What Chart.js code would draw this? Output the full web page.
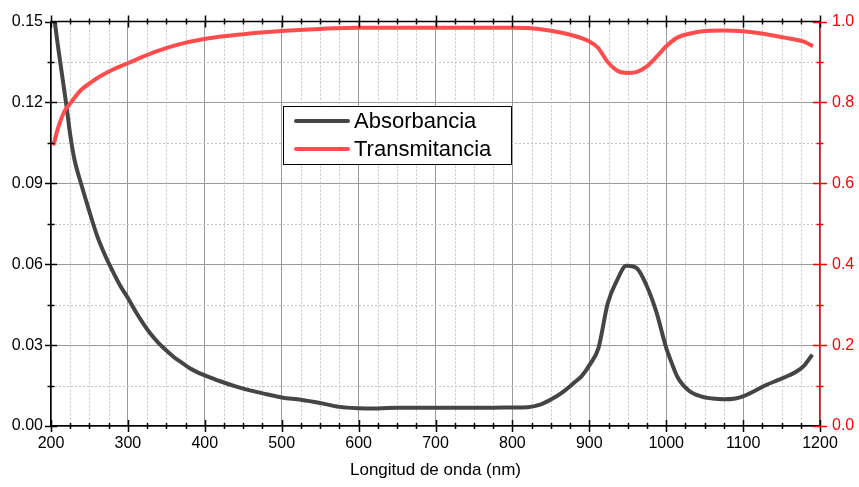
<!DOCTYPE html>
<html>
<head>
<meta charset="utf-8">
<script src="https://cdn.jsdelivr.net/npm/chart.js@4.4.1/dist/chart.umd.min.js"></script>
<style>
  html, body { margin: 0; padding: 0; background: #fff; }
  #wrap { width: 859px; height: 487px; }
</style>
</head>
<body>
<div id="wrap"><canvas id="c" width="859" height="487"></canvas></div>
<script>
// Absorbance spectrum (left axis)
const absWavelength = [200, 205, 210, 215, 220, 225, 230, 240, 250, 260, 270, 280, 290, 300, 310, 320, 330, 340, 350, 360, 370, 380, 390, 400, 420, 440, 460, 480, 500, 525, 550, 575, 600, 625, 650, 675, 700, 725, 750, 775, 800, 820, 835, 850, 865, 880, 890, 900, 912, 924, 936, 948, 961, 974, 987, 1000, 1005, 1015, 1030, 1045, 1060, 1075, 1090, 1100, 1115, 1130, 1145, 1160, 1170, 1180, 1190];
const absorbancia = [0.165, 0.150, 0.139, 0.129, 0.119, 0.108, 0.0995, 0.089, 0.0795, 0.0705, 0.0635, 0.0575, 0.052, 0.0475, 0.0425, 0.038, 0.034, 0.0307, 0.028, 0.0255, 0.0235, 0.0215, 0.0200, 0.0188, 0.0166, 0.0147, 0.0131, 0.0118, 0.0106, 0.0097, 0.0085, 0.0071, 0.0066, 0.0065, 0.0068, 0.0068, 0.0068, 0.0068, 0.0068, 0.0068, 0.0069, 0.0070, 0.0078, 0.0098, 0.0125, 0.016, 0.0185, 0.0225, 0.029, 0.0455, 0.054, 0.0594, 0.0587, 0.0524, 0.0425, 0.029, 0.025, 0.018, 0.0130, 0.0110, 0.0102, 0.0099, 0.0102, 0.0110, 0.0130, 0.0152, 0.0170, 0.0188, 0.0203, 0.0226, 0.0265];

// Transmittance spectrum (right axis)
const transWavelength = [203, 210, 218, 226, 238, 250, 264, 280, 300, 318, 338, 365, 399, 450, 500, 550, 600, 650, 700, 750, 800, 820, 848, 874, 900, 911, 924, 937, 950, 961, 974, 987, 1000, 1015, 1030, 1047, 1073, 1100, 1126, 1152, 1178, 1191];
const transmitancia = [0.694, 0.742, 0.78, 0.80, 0.829, 0.847, 0.865, 0.881, 0.897, 0.912, 0.927, 0.943, 0.957, 0.969, 0.977, 0.982, 0.985, 0.985, 0.985, 0.985, 0.985, 0.984, 0.978, 0.968, 0.951, 0.936, 0.90, 0.878, 0.873, 0.875, 0.888, 0.912, 0.939, 0.961, 0.970, 0.976, 0.978, 0.976, 0.970, 0.961, 0.951, 0.939];

// Axis ranges and tick steps
const xRange = [200, 1200];
const xMajor = 100, xMinor = 25;
const yRange = [0, 0.15];
const yMajor = 0.03, yMinor = 0.015;
const y2Range = [0, 1.0];
const y2Major = 0.2, y2Minor = 0.1;

const labels = { abs: 'Absorbancia', trans: 'Transmitancia', xTitle: 'Longitud de onda (nm)' };

const BLACK_LINE = '#454545';
const RED_LINE = '#ff4d4d';
const RED_AXIS = '#ff0000';
const FONT = '"Liberation Sans", Arial, sans-serif';

function toPoints(xs, ys) { return xs.map((x, i) => ({ x: x, y: ys[i] })); }

function steps(min, max, step) {
  const out = [];
  const n = Math.round((max - min) / step);
  for (let i = 0; i <= n; i++) out.push(min + i * step);
  return out;
}

// dotted minor grid lines drawn under the data
const minorGrid = {
  id: 'minorGrid',
  beforeDatasetsDraw(chart) {
    const { ctx, chartArea: a, scales } = chart;
    ctx.save();
    ctx.strokeStyle = '#c4c4c4';
    ctx.lineWidth = 1;
    ctx.setLineDash([2, 2]);
    steps(xRange[0], xRange[1], xMinor).forEach(v => {
      if (Math.abs(v % xMajor) < 1e-6) return;
      const px = Math.round(scales.x.getPixelForValue(v)) + 0.5;
      ctx.beginPath(); ctx.moveTo(px, a.top); ctx.lineTo(px, a.bottom); ctx.stroke();
    });
    steps(yRange[0], yRange[1], yMinor).forEach((v, i) => {
      if (i % 2 === 0) return;
      const py = Math.round(scales.y.getPixelForValue(v)) + 0.5;
      ctx.beginPath(); ctx.moveTo(a.left, py); ctx.lineTo(a.right, py); ctx.stroke();
    });
    ctx.restore();
  }
};

// axis frame and tick marks (crossing the axis lines)
const axisTicks = {
  id: 'axisTicks',
  afterDraw(chart) {
    const { ctx, chartArea: a, scales } = chart;
    ctx.save();
    ctx.lineWidth = 1.5;
    ctx.setLineDash([]);
    // top frame line
    ctx.strokeStyle = '#000';
    ctx.beginPath(); ctx.moveTo(a.left, a.top); ctx.lineTo(a.right, a.top); ctx.stroke();
    // x ticks, bottom and top
    steps(xRange[0], xRange[1], xMinor).forEach(v => {
      const major = Math.abs(v % xMajor) < 1e-6;
      const px = Math.round(scales.x.getPixelForValue(v)) + 0.5;
      const len = major ? 6 : 3;
      ctx.beginPath();
      ctx.moveTo(px, a.bottom - len); ctx.lineTo(px, a.bottom + len);
      ctx.moveTo(px, a.top - len); ctx.lineTo(px, a.top + len);
      ctx.stroke();
    });
    // left y ticks
    steps(yRange[0], yRange[1], yMinor).forEach((v, i) => {
      const len = i % 2 === 0 ? 6 : 3.5;
      const py = Math.round(scales.y.getPixelForValue(v)) + 0.5;
      ctx.beginPath(); ctx.moveTo(a.left - len, py); ctx.lineTo(a.left + len, py); ctx.stroke();
    });
    // right y ticks, red
    ctx.strokeStyle = RED_AXIS;
    steps(y2Range[0], y2Range[1], y2Minor).forEach((v, i) => {
      const len = i % 2 === 0 ? 7 : 3.5;
      const py = Math.round(scales.y2.getPixelForValue(v)) + 0.5;
      ctx.beginPath(); ctx.moveTo(a.right - len, py); ctx.lineTo(a.right + len, py); ctx.stroke();
    });
    ctx.restore();
  }
};

// boxed legend inside the plot
const boxLegend = {
  id: 'boxLegend',
  afterDraw(chart) {
    const { ctx } = chart;
    const box = { x: 283.5, y: 106.5, w: 228, h: 58 };
    ctx.save();
    ctx.fillStyle = '#fff';
    ctx.fillRect(box.x, box.y, box.w, box.h);
    ctx.strokeStyle = '#000';
    ctx.lineWidth = 1;
    ctx.strokeRect(box.x, box.y, box.w, box.h);
    ctx.font = '22px ' + FONT;
    ctx.textBaseline = 'middle';
    ctx.fillStyle = '#000';
    ctx.lineCap = 'round';
    const rows = [121, 149];
    chart.data.datasets.forEach((ds, i) => {
      ctx.strokeStyle = ds.borderColor;
      ctx.lineWidth = 4;
      ctx.beginPath(); ctx.moveTo(296, rows[i]); ctx.lineTo(348, rows[i]); ctx.stroke();
      ctx.fillText(ds.label, 354, rows[i] + 1);
    });
    ctx.restore();
  }
};

new Chart(document.getElementById('c'), {
  type: 'line',
  data: {
    datasets: [
      {
        label: labels.abs,
        data: toPoints(absWavelength, absorbancia),
        yAxisID: 'y',
        borderColor: BLACK_LINE,
        borderWidth: 4,
        pointRadius: 0,
        cubicInterpolationMode: 'monotone',
        order: 2
      },
      {
        label: labels.trans,
        data: toPoints(transWavelength, transmitancia),
        yAxisID: 'y2',
        borderColor: RED_LINE,
        borderWidth: 4,
        pointRadius: 0,
        cubicInterpolationMode: 'monotone',
        order: 1
      }
    ]
  },
  options: {
    responsive: false,
    animation: false,
    layout: { padding: { top: 17, left: 0, right: 0, bottom: 0 } },
    plugins: { legend: { display: false }, tooltip: { enabled: false } },
    scales: {
      x: {
        type: 'linear',
        min: xRange[0], max: xRange[1],
        afterFit: s => { s.height = 61; },
        ticks: { stepSize: xMajor, color: '#000', font: { family: FONT, size: 16 }, padding: 8, maxRotation: 0, callback: v => String(v) },
        grid: { color: '#9a9a9a', lineWidth: 1, drawTicks: false },
        border: { color: '#000', width: 1.5 },
        title: { display: true, text: labels.xTitle, color: '#000', font: { family: FONT, size: 17 }, padding: { top: 6, bottom: 6 } }
      },
      y: {
        position: 'left',
        min: yRange[0], max: yRange[1],
        afterFit: s => { s.width = 51; },
        ticks: { stepSize: yMajor, color: '#000', font: { family: FONT, size: 16 }, padding: 8, callback: v => v.toFixed(2) },
        grid: { color: '#9a9a9a', lineWidth: 1, drawTicks: false },
        border: { color: '#000', width: 1.5 }
      },
      y2: {
        position: 'right',
        min: y2Range[0], max: y2Range[1],
        afterFit: s => { s.width = 39; },
        ticks: { stepSize: y2Major, color: RED_AXIS, font: { family: FONT, size: 16 }, padding: 12, callback: v => v.toFixed(1) },
        grid: { display: false, drawTicks: false },
        border: { color: RED_AXIS, width: 1.5 }
      }
    }
  },
  plugins: [minorGrid, axisTicks, boxLegend]
});
</script>
</body>
</html>
